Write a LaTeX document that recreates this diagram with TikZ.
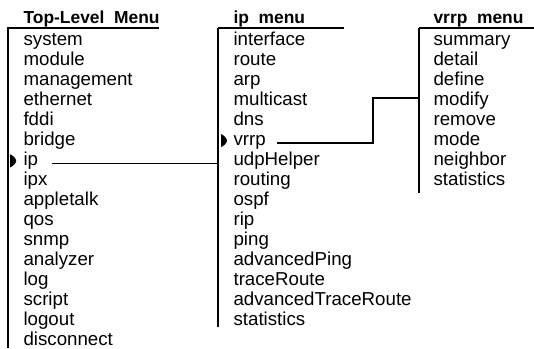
\documentclass[tikz,border=0pt]{standalone}
\usepackage{fontspec}
\setmainfont{Liberation Sans}
\usetikzlibrary{positioning}

\begin{document}
\begin{tikzpicture}[x=0.5pt,y=-0.5pt,node distance=10.02pt,line width=0.55pt]
\tikzset{
  item/.style={inner sep=0pt,font=\fontsize{9.35}{10}\selectfont},
  title/.style={inner sep=0pt,anchor=base west,font=\fontsize{8.7}{10}\selectfont\bfseries},
  next/.style={below=of #1.base west,anchor=base west},
  selmark/.pic={\fill (0,-6.5) .. controls (3,-5.5) and (6,-2) .. (6,0) .. controls (6,2) and (3,5.5) .. (0,6.5) -- cycle;}
}
\useasboundingbox (0,0) rectangle (534,348);
% menu titles and bars
  \node[title] (toptitle) at (23,23) {Top-Level\ \ Menu};
  \node[title] (iptitle) at (233,23) {ip\ \ menu};
  \node[title] (vrrptitle) at (433,23) {vrrp\ \ menu};
  \coordinate (topbar) at (8,28);
  \coordinate (ipbar) at (218,28);
  \coordinate (vrrpbar) at (419,28);
  \draw (7,28) -- (159,28);
  \draw (topbar) -- (8,348);
  \draw (218,28) -- (344,28);
  \draw (ipbar) -- (218,327);
  \draw (419,28) -- (534,28);
  \draw (vrrpbar) -- (419,193);
% top-level menu
  \node[item,anchor=base west] (top-system) at (23,45) {system};
  \node[item,next=top-system] (top-module) {module};
  \node[item,next=top-module] (top-management) {management};
  \node[item,next=top-management] (top-ethernet) {ethernet};
  \node[item,next=top-ethernet] (top-fddi) {fddi};
  \node[item,next=top-fddi] (top-bridge) {bridge};
  \node[item,next=top-bridge] (top-ip) {ip};
  \node[item,next=top-ip] (top-ipx) {ipx};
  \node[item,next=top-ipx] (top-appletalk) {appletalk};
  \node[item,next=top-appletalk] (top-qos) {qos};
  \node[item,next=top-qos] (top-snmp) {snmp};
  \node[item,next=top-snmp] (top-analyzer) {analyzer};
  \node[item,next=top-analyzer] (top-log) {log};
  \node[item,next=top-log] (top-script) {script};
  \node[item,next=top-script] (top-logout) {logout};
  \node[item,next=top-logout] (top-disconnect) {disconnect};
% ip menu
  \node[item,anchor=base west] (ip-interface) at (233,45) {interface};
  \node[item,next=ip-interface] (ip-route) {route};
  \node[item,next=ip-route] (ip-arp) {arp};
  \node[item,next=ip-arp] (ip-multicast) {multicast};
  \node[item,next=ip-multicast] (ip-dns) {dns};
  \node[item,next=ip-dns] (ip-vrrp) {vrrp};
  \node[item,next=ip-vrrp] (ip-udpHelper) {udpHelper};
  \node[item,next=ip-udpHelper] (ip-routing) {routing};
  \node[item,next=ip-routing] (ip-ospf) {ospf};
  \node[item,next=ip-ospf] (ip-rip) {rip};
  \node[item,next=ip-rip] (ip-ping) {ping};
  \node[item,next=ip-ping] (ip-advancedPing) {advancedPing};
  \node[item,next=ip-advancedPing] (ip-traceRoute) {traceRoute};
  \node[item,next=ip-traceRoute] (ip-advancedTraceRoute) {advancedTraceRoute};
  \node[item,next=ip-advancedTraceRoute] (ip-statistics) {statistics};
% vrrp menu
  \node[item,anchor=base west] (vrrp-summary) at (433,45) {summary};
  \node[item,next=vrrp-summary] (vrrp-detail) {detail};
  \node[item,next=vrrp-detail] (vrrp-define) {define};
  \node[item,next=vrrp-define] (vrrp-modify) {modify};
  \node[item,next=vrrp-modify] (vrrp-remove) {remove};
  \node[item,next=vrrp-remove] (vrrp-mode) {mode};
  \node[item,next=vrrp-mode] (vrrp-neighbor) {neighbor};
  \node[item,next=vrrp-neighbor] (vrrp-statistics) {statistics};
% selections and links
  \pic at ([xshift=-6.4pt,yshift=2.2pt]top-ip.base west) {selmark};
  \pic at ([xshift=-6pt,yshift=2.3pt]ip-vrrp.base west) {selmark};
  \coordinate (ipstart) at ([xshift=6.5pt,yshift=1pt]top-ip.base east);
  \coordinate (vrrpstart) at ([xshift=5.5pt,yshift=1.1pt]ip-vrrp.base east);
  \coordinate (vrrpjog) at (373,98);
  \draw (ipstart) -- (ipstart -| ipbar);
  \draw (vrrpstart) -| (vrrpjog) -- (vrrpjog -| vrrpbar);
\end{tikzpicture}
\end{document}
